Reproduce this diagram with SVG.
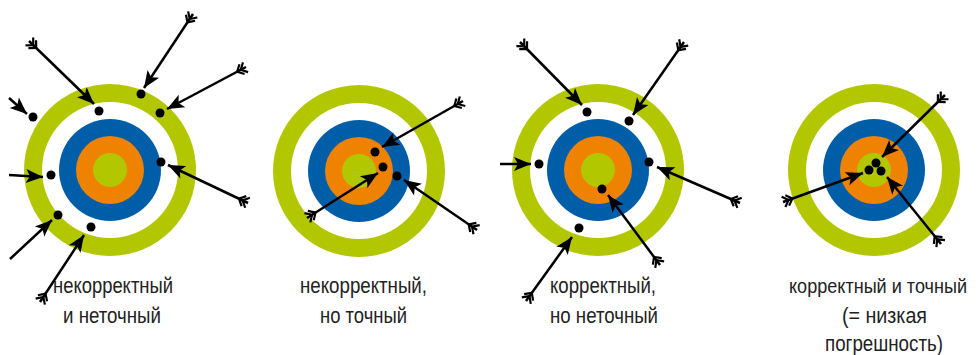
<svg xmlns="http://www.w3.org/2000/svg" width="980" height="355" viewBox="0 0 980 355">
<style>
.g{fill:#b3c700}.w{fill:#fff}.b{fill:#005ea8}.o{fill:#ef8200}
.dot{fill:#000}
.arr{stroke:#000;stroke-width:2.5;fill:none;marker-start:url(#fletch);marker-end:url(#head)}
.lbl{font-family:"Liberation Sans","Noto Sans",Arial,sans-serif;font-size:22px;fill:#222;text-anchor:middle}
</style>
<defs>
<marker id="head" markerUnits="userSpaceOnUse" markerWidth="18" markerHeight="14" refX="17" refY="7" orient="auto" overflow="visible">
<path d="M0,0 L17,7 L0,14 L4,7 z" fill="#000"/>
</marker>
<marker id="fletch" markerUnits="userSpaceOnUse" markerWidth="12" markerHeight="12" refX="0" refY="6" orient="auto" overflow="visible">
<path d="M0.5,0.5 L6,6 L0.5,11.5 M4.5,0.5 L10,6 L4.5,11.5" fill="none" stroke="#000" stroke-width="2.2"/>
</marker>
<g id="rings">
<circle r="86" class="g"/><circle r="68" class="w"/><circle r="51" class="b"/><circle r="34" class="o"/><circle r="17" class="g"/>
</g>
</defs>

<g id="target-1">
<use href="#rings" x="110" y="170"/>
<g class="dot">
<circle cx="33" cy="117" r="4.5"/><circle cx="99" cy="111" r="4.5"/><circle cx="141" cy="94" r="4.5"/><circle cx="160" cy="113" r="4.5"/>
<circle cx="51" cy="175" r="4.5"/><circle cx="161" cy="162" r="4.5"/><circle cx="58" cy="215" r="4.5"/><circle cx="91" cy="227" r="4.5"/>
</g>
<text class="lbl" x="113" y="293" textLength="120" lengthAdjust="spacingAndGlyphs">некорректный</text>
<text class="lbl" x="112" y="323" textLength="98" lengthAdjust="spacingAndGlyphs">и неточный</text>
</g>

<g id="target-2">
<use href="#rings" x="359" y="171"/>
<g class="dot">
<circle cx="375" cy="152" r="4.5"/><circle cx="383" cy="167" r="4.5"/><circle cx="397" cy="176" r="4.5"/>
</g>
<text class="lbl" x="363.5" y="293" textLength="127" lengthAdjust="spacingAndGlyphs">некорректный,</text>
<text class="lbl" x="363.5" y="323" textLength="87" lengthAdjust="spacingAndGlyphs">но точный</text>
</g>

<g id="target-3">
<use href="#rings" x="598" y="170"/>
<g class="dot">
<circle cx="587" cy="112" r="4.5"/><circle cx="629" cy="121" r="4.5"/><circle cx="539" cy="164" r="4.5"/>
<circle cx="649" cy="162" r="4.5"/><circle cx="602" cy="189" r="4.5"/><circle cx="579" cy="228" r="4.5"/>
</g>
<text class="lbl" x="603" y="293" textLength="106" lengthAdjust="spacingAndGlyphs">корректный,</text>
<text class="lbl" x="604" y="323" textLength="108" lengthAdjust="spacingAndGlyphs">но неточный</text>
</g>

<g id="target-4">
<use href="#rings" x="874" y="170"/>
<g class="dot">
<circle cx="876" cy="163" r="4.5"/><circle cx="869" cy="170" r="4.5"/><circle cx="881" cy="171" r="4.5"/>
</g>
<text class="lbl" x="878" y="293" textLength="178" lengthAdjust="spacingAndGlyphs" style="font-size:19.5px">корректный и точный</text>
<text class="lbl" x="884.5" y="323" textLength="85" lengthAdjust="spacingAndGlyphs">(= низкая</text>
<text class="lbl" x="884" y="351" textLength="118" lengthAdjust="spacingAndGlyphs">погрешность)</text>
</g>

<g id="connectors">
<path class="arr" d="M29,41 L94,104"/>
<path class="arr" d="M193,14 L144,88"/>
<path class="arr" d="M246,67 L167,109"/>
<path class="arr" d="M9,98 L27,114" style="marker-start:none"/>
<path class="arr" d="M9,175 L43,177" style="marker-start:none"/>
<path class="arr" d="M248,203 L168,165"/>
<path class="arr" d="M10,259 L52,220" style="marker-start:none"/>
<path class="arr" d="M40,302 L84,235"/>

<path class="arr" d="M463,101 L382,147"/>
<path class="arr" d="M477,230 L404,180"/>
<path class="arr" d="M307,218 L378,173"/>

<path class="arr" d="M520,42 L582,105"/>
<path class="arr" d="M684,42 L633,115"/>
<path class="arr" d="M500,164 L531,164" style="marker-start:none"/>
<path class="arr" d="M740,203 L657,167"/>
<path class="arr" d="M660,265 L608,195"/>
<path class="arr" d="M526,301 L572,237"/>

<path class="arr" d="M945,95 L882,157"/>
<path class="arr" d="M783,202 L863,173"/>
<path class="arr" d="M941,244 L887,177"/>
</g>
</svg>
